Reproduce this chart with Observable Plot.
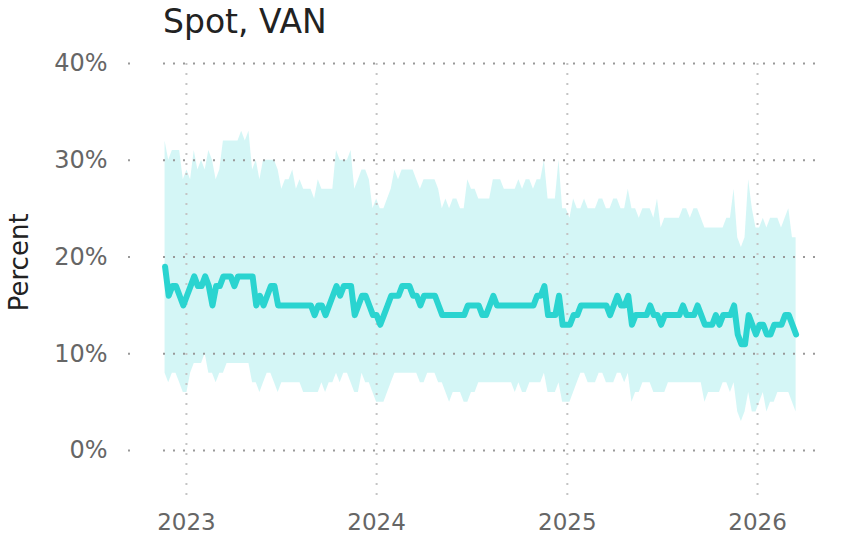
<!DOCTYPE html>
<html><head><meta charset="utf-8">
<script src="https://cdn.jsdelivr.net/npm/d3@7"></script>
<script src="https://cdn.jsdelivr.net/npm/@observablehq/plot@0.6"></script>
<style>
body{margin:0;background:#fff;font-family:"DejaVu Sans",sans-serif;}
#wrap{position:relative;width:849px;height:537px;overflow:hidden;}
#title{position:absolute;left:163px;top:5px;font-size:33px;line-height:33px;color:#222;white-space:nowrap;}
#chart{position:absolute;left:0;top:45px;}
</style></head><body>
<div id="wrap"><div id="title">Spot, VAN</div><div id="chart"></div></div>
<script>
const title = "Spot, VAN";
const yLabel = "Percent";
const startDate = new Date(Date.UTC(2022, 10, 21)); // first weekly observation
const yearTicks = [2023, 2024, 2025, 2026];
const percentTicks = [0, 10, 20, 30, 40];

// weekly central estimate (%)
const mid = [
  19,16,17,17,16,15,16,17,18,17,
  17,18,17,15,17,17,18,18,18,17,
  18,18,18,18,18,15,16,15,16,17,
  17,15,15,15,15,15,15,15,15,15,
  15,14,15,15,14,15,16,17,16,17,
  17,17,14,15,16,16,15,14,14,13,
  14,15,16,16,16,17,17,17,16,16,
  15,16,16,16,16,15,14,14,14,14,
  14,14,14,15,15,15,15,14,14,15,
  16,15,15,15,15,15,15,15,15,15,
  15,15,16,16,17,14,14,14,16,13,
  13,13,14,14,15,15,15,15,15,15,
  15,15,14,15,16,15,15,16,13,14,
  14,14,14,15,14,14,13,14,14,14,
  14,14,15,14,14,14,15,14,13,13,
  13,14,13,14,14,14,15,12,11,11,
  14,13,12,13,13,12,12,13,13,13,
  14,14,13,12
];
// weekly upper bound (%)
const upper = [
  32,30,31,31,31,28,29,28,31,29,
  30,29,31,30,28,29,32,32,32,32,
  32,33,32,33,29,30,28,30,30,30,
  30,29,27,28,28,29,27,28,27,27,
  27,26,28,27,27,27,27,31,30,30,
  30,31,27,28,29,29,28,25,26,25,
  25,26,27,29,28,29,29,29,29,28,
  27,28,28,28,28,27,25,26,25,26,
  26,25,25,28,27,27,26,26,26,26,
  28,28,28,27,27,27,27,28,27,28,
  28,27,28,28,30,26,26,26,30,25,
  25,24,26,25,25,26,25,25,25,26,
  26,25,25,26,26,25,25,27,25,25,
  24,25,25,25,24,26,23,24,24,24,
  24,24,25,25,24,25,25,24,23,23,
  23,23,23,23,24,24,27,22,21,22,
  28,25,23,23,24,23,24,24,24,23,
  24,25,22,22
];
// weekly lower bound (%)
const lower = [
  8,7,8,8,7,6,6,8,9,9,
  9,10,8,8,7,8,8,9,9,9,
  9,9,9,9,7,7,6,7,8,8,
  7,6,7,7,7,7,7,7,6,6,
  6,6,6,7,6,7,7,8,7,8,
  8,7,6,6,8,7,7,6,5,5,
  5,6,7,8,8,8,8,8,8,8,
  7,7,8,8,8,7,7,6,5,6,
  6,6,5,5,6,6,7,7,7,7,
  7,7,7,7,7,7,6,7,6,6,
  7,7,7,7,8,6,6,6,7,5,
  5,5,6,7,8,8,7,7,7,8,
  8,7,7,7,8,8,7,8,5,6,
  6,7,7,7,6,6,6,6,7,7,
  7,7,7,7,7,7,7,7,5,6,
  6,6,6,7,7,6,7,4,3,4,
  6,4,4,5,6,4,5,5,6,6,
  6,6,5,4
];

const data = mid.map((m, i) => ({
  date: d3.utcDay.offset(startDate, 7 * i),
  mid: m, lo: lower[i], hi: upper[i]
}));
const years = yearTicks.map(y => new Date(Date.UTC(y, 0, 1)));
const teal = "#2ad4d0";

const chart = Plot.plot({
  width: 849, height: 492,
  marginLeft: 163, marginRight: 31, marginTop: 18, marginBottom: 38.5,
  style: {fontFamily: "DejaVu Sans", background: "white", overflow: "visible"},
  x: {type: "utc", domain: [new Date(Date.UTC(2022, 10, 18)), new Date(Date.UTC(2026, 3, 28))], label: null},
  y: {domain: [-5, 40], label: null},
  marks: [
    Plot.areaY(data, {x: "date", y1: "lo", y2: "hi", fill: teal, fillOpacity: 0.2}),
    Plot.gridX(years, {stroke: "#c4c4c4", strokeOpacity: 1, strokeWidth: 2, strokeDasharray: "2,8"}),
    Plot.gridY(percentTicks, {stroke: "#999", strokeOpacity: 1, strokeWidth: 2, strokeDasharray: "2,8"}),
    Plot.axisY(percentTicks, {tickSize: 2, dx: -33, tickFormat: () => "", stroke: "#999", strokeWidth: 2}),
    Plot.axisY(percentTicks, {tickSize: 0, tickPadding: 56, tickFormat: d => d + "%", fontSize: 24, color: "#666", label: null}),
    Plot.axisX(years, {tickSize: 0, tickPadding: 15, tickFormat: d3.utcFormat("%Y"), fontSize: 23, color: "#666", label: null}),
    Plot.lineY(data, {x: "date", y: "mid", stroke: teal, strokeWidth: 6, strokeLinejoin: "round", strokeLinecap: "round"}),
    Plot.text([yLabel], {frameAnchor: "left", dx: -144, dy: 30, rotate: -90, fontSize: 26, fill: "#222"})
  ]
});
document.getElementById("chart").appendChild(chart);
</script>
</body></html>
